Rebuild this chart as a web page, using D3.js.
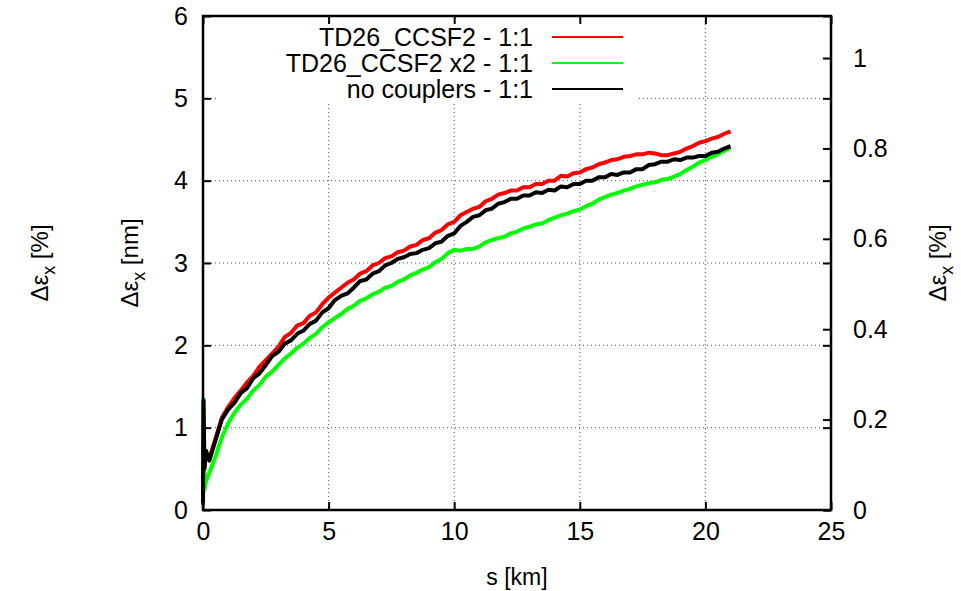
<!DOCTYPE html>
<html>
<head>
<meta charset="utf-8">
<script src="https://cdn.jsdelivr.net/npm/d3@7"></script>
<style>
  body { margin: 0; background: #fff; }
  svg text { font-family: "Liberation Sans", Arial, Helvetica, sans-serif; fill: #000; }
</style>
</head>
<body>
<svg width="961" height="591"></svg>
<script>
// distance along the ring [km]
var sKm = [0, 0.02, 0.06, 0.12, 0.25,
  0.5, 0.75, 1, 1.25, 1.5, 1.75, 2, 2.25,
  2.5, 2.75, 3, 3.25, 3.5, 3.75, 4, 4.25,
  4.5, 4.75, 5, 5.25, 5.5, 5.75, 6, 6.25,
  6.5, 6.75, 7, 7.25, 7.5, 7.75, 8, 8.25,
  8.5, 8.75, 9, 9.25, 9.5, 9.75, 10, 10.25,
  10.5, 10.75, 11, 11.25, 11.5, 11.75, 12, 12.25,
  12.5, 12.75, 13, 13.25, 13.5, 13.75, 14, 14.25,
  14.5, 14.75, 15, 15.25, 15.5, 15.75, 16, 16.25,
  16.5, 16.75, 17, 17.25, 17.5, 17.75, 18, 18.25,
  18.5, 18.75, 19, 19.25, 19.5, 19.75, 20, 20.25,
  20.5, 20.75, 21];

// emittance growth [nm]
var ccsf2 = [0.08, 1.0, 0.55, 0.7, 0.62,
  0.87, 1.12, 1.25, 1.36, 1.45, 1.55, 1.63, 1.74,
  1.82, 1.9, 1.98, 2.1, 2.15, 2.24, 2.27, 2.36,
  2.4, 2.5, 2.58, 2.64, 2.7, 2.76, 2.8, 2.87,
  2.9, 2.97, 3.0, 3.06, 3.08, 3.13, 3.15, 3.2,
  3.22, 3.28, 3.3, 3.37, 3.4, 3.47, 3.5, 3.58,
  3.62, 3.66, 3.68, 3.75, 3.78, 3.83, 3.85, 3.88,
  3.88, 3.92, 3.92, 3.96, 3.96, 4.0, 4.0, 4.06,
  4.05, 4.09, 4.1, 4.14, 4.16, 4.2, 4.22, 4.25,
  4.26, 4.29, 4.3, 4.32, 4.32, 4.34, 4.33, 4.31,
  4.31, 4.33, 4.35, 4.39, 4.42, 4.46, 4.48, 4.51,
  4.53, 4.57, 4.6];

var ccsf2x2 = [0.05, 1.35, 0.25, 0.35, 0.45,
  0.65, 0.88, 1.05, 1.18, 1.28, 1.35, 1.45, 1.52,
  1.62, 1.68, 1.76, 1.84, 1.9, 1.97, 2.02, 2.09,
  2.14, 2.22, 2.28, 2.33, 2.38, 2.44, 2.48, 2.54,
  2.57, 2.62, 2.65, 2.7, 2.72, 2.77, 2.8, 2.85,
  2.88, 2.92, 2.95, 3.01, 3.05, 3.12, 3.16, 3.15,
  3.17, 3.17, 3.2, 3.25, 3.28, 3.3, 3.32, 3.36,
  3.38, 3.42, 3.44, 3.47, 3.48, 3.52, 3.55, 3.58,
  3.6, 3.63, 3.65, 3.69, 3.72, 3.77, 3.8, 3.83,
  3.85, 3.88, 3.9, 3.93, 3.95, 3.97, 3.98, 4.01,
  4.02, 4.05, 4.08, 4.13, 4.17, 4.22, 4.25, 4.29,
  4.32, 4.36, 4.4];

var noCouplers = [0.08, 1.33, 0.5, 0.72, 0.6,
  0.85, 1.1, 1.22, 1.3, 1.42, 1.48, 1.6, 1.66,
  1.76, 1.87, 1.92, 2.02, 2.06, 2.14, 2.18, 2.26,
  2.3, 2.4, 2.45, 2.55, 2.6, 2.63, 2.7, 2.78,
  2.8, 2.87, 2.9, 2.97, 3.0, 3.05, 3.07, 3.11,
  3.12, 3.16, 3.18, 3.24, 3.26, 3.33, 3.36, 3.45,
  3.5, 3.56, 3.58, 3.64, 3.66, 3.72, 3.74, 3.78,
  3.78, 3.82, 3.82, 3.86, 3.85, 3.89, 3.88, 3.93,
  3.92, 3.96, 3.96, 4.0, 4.0, 4.04, 4.04, 4.08,
  4.07, 4.1, 4.1, 4.14, 4.14, 4.19, 4.2, 4.23,
  4.23, 4.26, 4.25, 4.28, 4.28, 4.3, 4.3, 4.34,
  4.35, 4.39, 4.42];

var seriesNames = ["TD26_CCSF2 - 1:1", "TD26_CCSF2 x2 - 1:1", "no couplers - 1:1"];
var seriesColours = ["#ff0000", "#00ff00", "#000000"];
var seriesValues = [ccsf2, ccsf2x2, noCouplers];

var xTicks = [0, 5, 10, 15, 20, 25];
var yTicks = [0, 1, 2, 3, 4, 5, 6];
var y2Ticks = [0, 0.2, 0.4, 0.6, 0.8, 1];

var svg = d3.select("svg");

// plot frame
var plotL = 203, plotR = 831, plotT = 16, plotB = 510;

var x = d3.scaleLinear().domain([0, 25]).range([plotL, plotR]);
var y = d3.scaleLinear().domain([0, 6]).range([plotB, plotT]);
// right axis: same frame, percent units
var y2 = d3.scaleLinear().domain([0, 1.093]).range([plotB, plotT]);

var plain = d => String(d);

// grid
var grid = svg.append("g")
    .attr("stroke", "#555")
    .attr("stroke-width", 1)
    .attr("stroke-dasharray", "1,3");

grid.selectAll("line.gx")
  .data(xTicks.filter(d => d > 0 && d < 25))
  .enter().append("line")
    .attr("class", "gx")
    .attr("x1", d => x(d)).attr("x2", d => x(d))
    .attr("y1", plotT).attr("y2", plotB);

grid.selectAll("line.gy")
  .data(yTicks.filter(d => d > 0 && d < 6))
  .enter().append("line")
    .attr("class", "gy")
    .attr("y1", d => y(d)).attr("y2", d => y(d))
    .attr("x1", plotL).attr("x2", plotR);

// key box covers the grid
svg.append("rect")
    .attr("x", 218).attr("y", plotT + 1)
    .attr("width", 420).attr("height", 85)
    .attr("fill", "#fff");

// curves
var line = d3.line()
    .x((d, i) => x(sKm[i]))
    .y(d => y(d));

svg.append("g")
  .selectAll("path")
  .data(seriesValues)
  .enter().append("path")
    .attr("d", line)
    .attr("fill", "none")
    .attr("stroke", (d, i) => seriesColours[i])
    .attr("stroke-width", 4)
    .attr("stroke-linejoin", "round");

// axes
var fs = "25px";

var xAxis = svg.append("g")
    .attr("transform", "translate(0," + plotB + ")")
    .call(d3.axisBottom(x).tickValues(xTicks).tickFormat(plain).tickSize(-8).tickPadding(12));

var xTop = svg.append("g")
    .attr("transform", "translate(0," + plotT + ")")
    .call(d3.axisTop(x).tickValues(xTicks).tickSize(-8).tickFormat(""));

var yAxis = svg.append("g")
    .attr("transform", "translate(" + plotL + ",0)")
    .call(d3.axisLeft(y).tickValues(yTicks).tickFormat(plain).tickSize(-8).tickPadding(15));

var yRightMirror = svg.append("g")
    .attr("transform", "translate(" + plotR + ",0)")
    .call(d3.axisRight(y).tickValues(yTicks).tickSize(-8).tickFormat(""));

var y2Axis = svg.append("g")
    .attr("transform", "translate(" + plotR + ",0)")
    .call(d3.axisRight(y2).tickValues(y2Ticks).tickFormat(plain).tickSize(-8).tickPadding(22));

[xAxis, xTop, yAxis, yRightMirror, y2Axis].forEach(function(a) {
  a.select(".domain").remove();
  a.selectAll("line").attr("stroke", "#000").attr("stroke-width", 2);
  a.selectAll("text").style("font-size", fs).attr("fill", "#000");
});
y2Axis.selectAll("text").attr("text-anchor", "start");

svg.append("rect")
    .attr("x", plotL).attr("y", plotT)
    .attr("width", plotR - plotL).attr("height", plotB - plotT)
    .attr("fill", "none")
    .attr("stroke", "#000")
    .attr("stroke-width", 2.5);

// axis titles
svg.append("text")
    .attr("x", x(12.5)).attr("y", 585)
    .attr("text-anchor", "middle")
    .style("font-size", "23px")
    .text("s [km]");

function epsLabel(cx, cy, unit) {
  var t = svg.append("text")
      .attr("transform", "translate(" + cx + "," + cy + ") rotate(-90)")
      .attr("text-anchor", "middle")
      .style("font-size", "24px");
  t.append("tspan").text("\u0394\u03b5");
  t.append("tspan").attr("dy", 7).style("font-size", "18px").text("x");
  t.append("tspan").attr("dy", -7).text(" [" + unit + "]");
}
epsLabel(138, 263, "nm");
epsLabel(48, 263, "%");
epsLabel(946, 263, "%");

// key
var key = svg.append("g");
seriesNames.forEach(function(name, i) {
  var ky = 37 + i * 26;
  key.append("text")
      .attr("x", 533).attr("y", ky)
      .attr("dy", "0.35em")
      .attr("text-anchor", "end")
      .style("font-size", "25px")
      .text(name);
  key.append("line")
      .attr("x1", 552).attr("x2", 623)
      .attr("y1", ky).attr("y2", ky)
      .attr("stroke", seriesColours[i])
      .attr("stroke-width", 2);
});
</script>
</body>
</html>
